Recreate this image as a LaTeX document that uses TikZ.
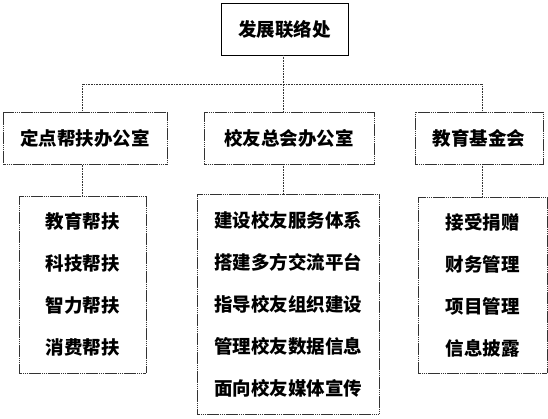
\documentclass[tikz,border=0pt]{standalone}
\usepackage{fontspec}
\usepackage{tikz}
\usetikzlibrary{positioning,calc}
\newfontfamily\cjk{Noto Sans CJK SC}

\begin{document}
\begin{tikzpicture}[
    x=1pt, y=-1pt,
    box/.style={draw, line width=0.9pt, inner sep=0pt, outer sep=0pt, align=center,
        font=\cjk\bfseries\fontsize{18.5}{42}\selectfont},
    head/.style={box, minimum height=52pt},
    unit/.style={head, draw=black!80, dash pattern=on 1.5pt off 0.4pt},
    list/.style={box, draw=black!80, dash pattern=on 1.5pt off 0.4pt},
    link/.style={draw=black!80, line width=0.9pt, dash pattern=on 1pt off 0.6pt}
]
\useasboundingbox (0,0) rectangle (548,418);

\node[head, minimum width=127pt] (office) at (284.5,29) {发展联络处};

\node[unit, minimum width=164pt] (aid) at (85,138.5) {定点帮扶办公室};
\node[unit, minimum width=170pt] (alumni) at (289,138) {校友总会办公室};
\node[unit, minimum width=128pt] (fund) at (479,138) {教育基金会};

\node[list, minimum width=127pt, minimum height=177pt] (aidlist) at (82.5,284.5)
    {教育帮扶\\科技帮扶\\智力帮扶\\消费帮扶};
\node[list, minimum width=182pt, minimum height=220pt] (alumnilist) at (288,304.5)
    {建设校友服务体系\\搭建多方交流平台\\指导校友组织建设\\管理校友数据信息\\面向校友媒体宣传};
\node[list, minimum width=129pt, minimum height=176pt] (fundlist) at (482.5,285)
    {接受捐赠\\财务管理\\项目管理\\信息披露};

\coordinate (bus) at (283.5,84);

\draw[link] (office.south -| bus) -- (bus) -- (alumni.north -| bus);
\draw[link] (aid.north -| aidlist.north) |- (bus) -| (fund.north -| fundlist.north);

\draw[link] (aid.south -| aidlist.north) -- (aidlist.north);
\draw[link] (alumni.south -| bus) -- (alumnilist.north -| bus);
\draw[link] (fund.south -| fundlist.north) -- (fundlist.north);
\end{tikzpicture}
\end{document}
